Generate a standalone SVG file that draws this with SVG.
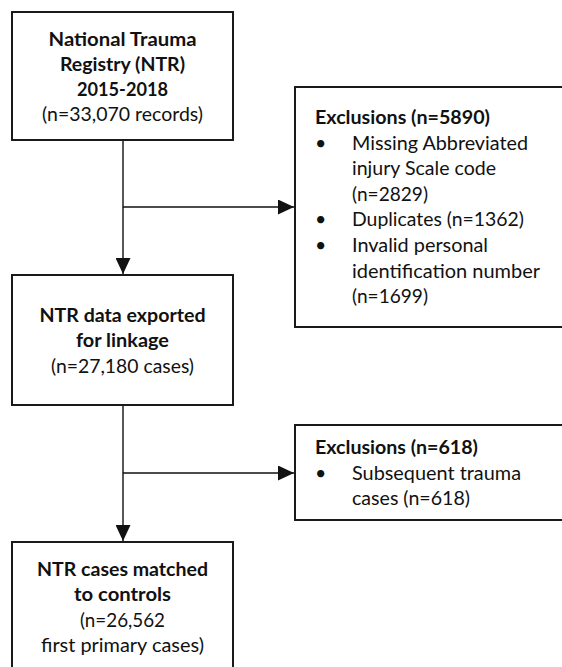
<svg xmlns="http://www.w3.org/2000/svg" width="562" height="667" viewBox="0 0 562 667">
<style>
.box{fill:#fff;stroke:#1a1a1a;stroke-width:2}
.t{font-family:Lato,"Open Sans","Liberation Sans",sans-serif;font-size:19.5px;fill:#111}
.b{font-weight:bold}
.c{text-anchor:middle}
.ln{fill:none;stroke:#111;stroke-width:1.4}
</style>
<defs>
<marker id="ah" viewBox="0 0 16 15" refX="16" refY="7.5" markerWidth="16" markerHeight="15" markerUnits="userSpaceOnUse" orient="auto">
<path d="M0,0 L16,7.5 L0,15 Z" fill="#111"/>
</marker>
</defs>
<g id="connectors">
<line class="ln" x1="123" y1="141" x2="123" y2="274" marker-end="url(#ah)"/>
<line class="ln" x1="123" y1="207" x2="294" y2="207" marker-end="url(#ah)"/>
<line class="ln" x1="123" y1="406" x2="123" y2="541" marker-end="url(#ah)"/>
<line class="ln" x1="123" y1="473" x2="294" y2="473" marker-end="url(#ah)"/>
</g>
<g id="ntr">
<rect class="box" x="12" y="12" width="221" height="128"/>
<text class="t b c" x="122.5" y="46" textLength="148" lengthAdjust="spacingAndGlyphs">National Trauma</text>
<text class="t b c" x="122.5" y="71" textLength="125" lengthAdjust="spacingAndGlyphs">Registry (NTR)</text>
<text class="t b c" x="122.5" y="96" textLength="91" lengthAdjust="spacingAndGlyphs">2015-2018</text>
<text class="t c" x="122.5" y="121" textLength="161" lengthAdjust="spacingAndGlyphs">(n=33,070 records)</text>
</g>
<g id="excl1">
<rect class="box" x="295" y="87" width="272" height="240"/>
<text class="t b" x="315" y="124" textLength="175" lengthAdjust="spacingAndGlyphs">Exclusions (n=5890)</text>
<text class="t" x="315" y="150">•</text>
<text class="t" x="352" y="150" textLength="176" lengthAdjust="spacingAndGlyphs">Missing Abbreviated</text>
<text class="t" x="352" y="175" textLength="144" lengthAdjust="spacingAndGlyphs">injury Scale code</text>
<text class="t" x="352" y="201" textLength="76" lengthAdjust="spacingAndGlyphs">(n=2829)</text>
<text class="t" x="315" y="226">•</text>
<text class="t" x="352" y="226" textLength="172" lengthAdjust="spacingAndGlyphs">Duplicates (n=1362)</text>
<text class="t" x="315" y="252">•</text>
<text class="t" x="352" y="252" textLength="136" lengthAdjust="spacingAndGlyphs">Invalid personal</text>
<text class="t" x="352" y="278" textLength="188" lengthAdjust="spacingAndGlyphs">identification number</text>
<text class="t" x="352" y="303" textLength="76" lengthAdjust="spacingAndGlyphs">(n=1699)</text>
</g>
<g id="export">
<rect class="box" x="12" y="275" width="221" height="130"/>
<text class="t b c" x="122.5" y="322" textLength="166" lengthAdjust="spacingAndGlyphs">NTR data exported</text>
<text class="t b c" x="122.5" y="347" textLength="93" lengthAdjust="spacingAndGlyphs">for linkage</text>
<text class="t c" x="122.5" y="373" textLength="143" lengthAdjust="spacingAndGlyphs">(n=27,180 cases)</text>
</g>
<g id="excl2">
<rect class="box" x="295" y="425" width="272" height="95"/>
<text class="t b" x="315" y="454" textLength="163" lengthAdjust="spacingAndGlyphs">Exclusions (n=618)</text>
<text class="t" x="315" y="480">•</text>
<text class="t" x="352" y="480" textLength="169" lengthAdjust="spacingAndGlyphs">Subsequent trauma</text>
<text class="t" x="352" y="505" textLength="118" lengthAdjust="spacingAndGlyphs">cases (n=618)</text>
</g>
<g id="matched">
<rect class="box" x="12" y="542" width="221" height="140"/>
<text class="t b c" x="122.5" y="576" textLength="171" lengthAdjust="spacingAndGlyphs">NTR cases matched</text>
<text class="t b c" x="122.5" y="601" textLength="97" lengthAdjust="spacingAndGlyphs">to controls</text>
<text class="t c" x="122.5" y="627" textLength="85" lengthAdjust="spacingAndGlyphs">(n=26,562</text>
<text class="t c" x="122.5" y="652" textLength="163" lengthAdjust="spacingAndGlyphs">first primary cases)</text>
</g>
</svg>
